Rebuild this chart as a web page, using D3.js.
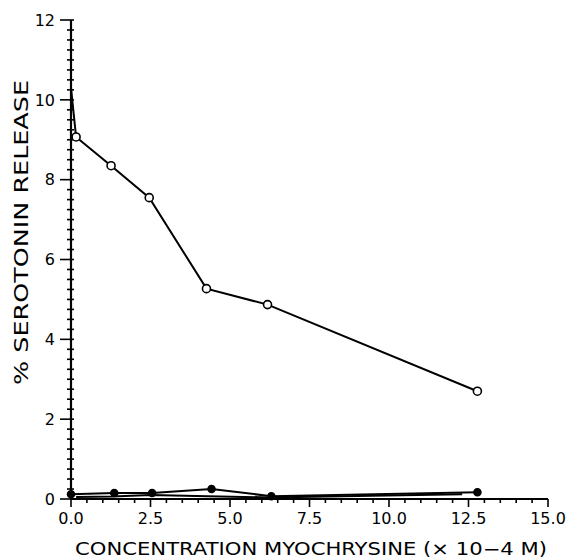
<!DOCTYPE html>
<html>
<head>
<meta charset="utf-8">
<script src="https://cdn.jsdelivr.net/npm/d3@7"></script>
<style>
  body { margin: 0; background: #fff; }
  svg text { font-family: "DejaVu Sans", sans-serif; fill: #000; }
</style>
</head>
<body>
<div id="chart"></div>
<script>
// concentration (x 10^-4 M) and % serotonin release
const openConc = [0, 0.16, 1.26, 2.46, 4.26, 6.18, 12.78];
const openRelease = [10.3, 9.07, 8.35, 7.55, 5.27, 4.87, 2.7];

const filledConc = [0, 1.36, 2.55, 4.42, 6.3, 12.78];
const filledRelease = [0.12, 0.15, 0.15, 0.25, 0.07, 0.17];

const baseConc = [0.16, 1.3, 2.5, 4.3, 6.2, 12.3];
const baseRelease = [0.05, 0.06, 0.1, 0.07, 0.04, 0.12];

const xTicks = [0, 2.5, 5, 7.5, 10, 12.5, 15];
const xTickLabels = ['0.0', '2.5', '5.0', '7.5', '10.0', '12.5', '15.0'];
const yTicks = [0, 2, 4, 6, 8, 10, 12];

const width = 568;
const height = 560;

const svg = d3
  .select('#chart')
  .append('svg')
  .attr('width', width)
  .attr('height', height);

const xScale = d3.scaleLinear().domain([0, 15]).range([71, 548]);
const yScale = d3.scaleLinear().domain([0, 12]).range([499, 20]);

// minor + major ticks drawn by hand so both lengths can differ
const xMinor = d3.range(0, 15.01, 0.5);
const yMinor = d3.range(0, 12.01, 0.25);

const xAxis = svg.append('g').attr('transform', `translate(0, ${yScale(0)})`);
xAxis.append('line')
  .attr('x1', xScale(0)).attr('x2', xScale(15))
  .attr('stroke', '#000').attr('stroke-width', 2.2);
xAxis.selectAll('.minor')
  .data(xMinor)
  .join('line')
  .attr('x1', (d) => xScale(d)).attr('x2', (d) => xScale(d))
  .attr('y1', 0).attr('y2', (d) => (xTicks.includes(d) ? 8 : 4))
  .attr('stroke', '#000').attr('stroke-width', 1.6);
xAxis.selectAll('.label')
  .data(xTicks)
  .join('text')
  .attr('x', (d) => xScale(d))
  .attr('y', 25)
  .attr('text-anchor', 'middle')
  .attr('font-size', 16)
  .text((d, i) => xTickLabels[i]);

const yAxis = svg.append('g').attr('transform', `translate(${xScale(0)}, 0)`);
yAxis.append('line')
  .attr('y1', yScale(0)).attr('y2', yScale(12))
  .attr('stroke', '#000').attr('stroke-width', 2.2);
yAxis.selectAll('.minor')
  .data(yMinor)
  .join('line')
  .attr('y1', (d) => yScale(d)).attr('y2', (d) => yScale(d))
  .attr('x1', (d) => (yTicks.includes(d) ? -11 : -4))
  .attr('x2', 3)
  .attr('stroke', '#000').attr('stroke-width', 1.6);
yAxis.selectAll('.label')
  .data(yTicks)
  .join('text')
  .attr('x', -16)
  .attr('y', (d) => yScale(d))
  .attr('dy', '0.36em')
  .attr('text-anchor', 'end')
  .attr('font-size', 16)
  .text((d) => d);

const line = d3.line()
  .x((d) => xScale(d[0]))
  .y((d) => yScale(d[1]));

function drawSeries(conc, values, fill, r, skipFirst) {
  const pts = conc.map((c, i) => [c, values[i]]);
  svg.append('path')
    .datum(pts)
    .attr('d', line)
    .attr('fill', 'none')
    .attr('stroke', '#000')
    .attr('stroke-width', 2);
  svg.append('g')
    .selectAll('circle')
    .data(skipFirst ? pts.slice(1) : pts)
    .join('circle')
    .attr('cx', (d) => xScale(d[0]))
    .attr('cy', (d) => yScale(d[1]))
    .attr('r', r)
    .attr('fill', fill)
    .attr('stroke', '#000')
    .attr('stroke-width', 1.6);
}

drawSeries(baseConc, baseRelease, 'none', 0, false);
drawSeries(filledConc, filledRelease, '#000', 3.5, false);
drawSeries(openConc, openRelease, '#fff', 4, true);

// axis titles
svg.append('text')
  .attr('transform', 'translate(28, 385) rotate(-90)')
  .attr('font-size', 19)
  .attr('textLength', 305)
  .attr('lengthAdjust', 'spacingAndGlyphs')
  .text('%  SEROTONIN  RELEASE');

svg.append('text')
  .attr('x', 75)
  .attr('y', 555)
  .attr('font-size', 17)
  .attr('textLength', 472)
  .attr('lengthAdjust', 'spacingAndGlyphs')
  .text('CONCENTRATION  MYOCHRYSINE  (× 10−4 M)');
</script>
</body>
</html>
